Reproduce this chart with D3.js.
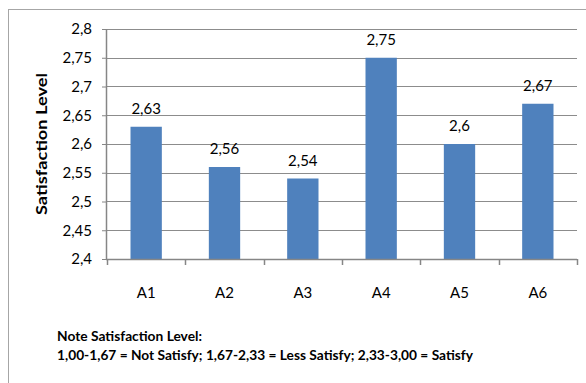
<!DOCTYPE html>
<html>
<head>
<meta charset="utf-8">
<script src="https://cdn.jsdelivr.net/npm/d3@7"></script>
<style>
  html, body { margin: 0; padding: 0; background: #fff; }
  svg { display: block; }
  text { font-family: Lato, "Open Sans", sans-serif; fill: #000; }
</style>
</head>
<body>
<svg id="chart" width="586" height="383"></svg>
<script>
// Satisfaction level per aspect
const categories = ["A1", "A2", "A3", "A4", "A5", "A6"];
const values = [2.63, 2.56, 2.54, 2.75, 2.6, 2.67];
const yTicks = [2.4, 2.45, 2.5, 2.55, 2.6, 2.65, 2.7, 2.75, 2.8];
const yTitle = "Satisfaction Level";
const noteLines = [
  "Note Satisfaction Level:",
  "1,00-1,67 = Not Satisfy; 1,67-2,33 = Less Satisfy; 2,33-3,00 = Satisfy"
];

const svg = d3.select("#chart");
const margin = { left: 107, right: 9, top: 29, bottom: 124 };
const W = 586, H = 383;
const plotW = W - margin.left - margin.right;
const plotH = H - margin.top - margin.bottom;

// comma decimal separator
const fmt = v => String(+v.toFixed(2)).replace(".", ",");

// outer chart frame
svg.append("rect")
  .attr("x", 8.5).attr("y", 9.5)
  .attr("width", 600).attr("height", 400)
  .attr("fill", "none").attr("stroke", "#a6a6a6").attr("stroke-width", 1);

const g = svg.append("g").attr("transform", `translate(${margin.left},${margin.top})`);

const x = d3.scaleBand().domain(categories).range([0, plotW]).paddingInner(0.6).paddingOuter(0.3);
const y = d3.scaleLinear().domain([2.4, 2.8]).range([plotH, 0]);

// gridlines
g.append("g")
  .selectAll("line")
  .data(yTicks.slice(1))
  .join("line")
  .attr("x1", 0).attr("x2", plotW)
  .attr("y1", d => Math.round(y(d)) + 0.5).attr("y2", d => Math.round(y(d)) + 0.5)
  .attr("stroke", "#8c8c8c").attr("stroke-width", 1);

// bars
g.append("g")
  .selectAll("rect")
  .data(values)
  .join("rect")
  .attr("x", (d, i) => x(categories[i]))
  .attr("width", x.bandwidth())
  .attr("y", d => y(d))
  .attr("height", d => plotH - y(d))
  .attr("fill", "#4f81bd");

// value labels
g.append("g")
  .selectAll("text")
  .data(values)
  .join("text")
  .attr("x", (d, i) => x(categories[i]) + x.bandwidth() / 2)
  .attr("y", d => y(d) - 13)
  .attr("text-anchor", "middle")
  .attr("font-size", 15)
  .text(d => fmt(d));

// y axis
const yAxis = g.append("g")
  .call(d3.axisLeft(y).tickValues(yTicks).tickSize(5).tickPadding(10).tickFormat(fmt));
yAxis.select(".domain").attr("stroke", "#868686").attr("stroke-width", 1.5).attr("d", `M-0.5,${plotH}V0`);
yAxis.selectAll(".tick line").attr("stroke", "#868686");
yAxis.selectAll(".tick text").attr("font-size", 15).attr("font-family", "Lato, sans-serif").attr("fill", "#000");

// x axis with boundary ticks
const xAxisG = g.append("g").attr("transform", `translate(0,${plotH})`);
xAxisG.append("line")
  .attr("x1", -1).attr("x2", plotW)
  .attr("y1", 0.5).attr("y2", 0.5)
  .attr("stroke", "#868686").attr("stroke-width", 1.5);
const bounds = d3.range(categories.length + 1).map(i => i * plotW / categories.length);
xAxisG.selectAll("line.tk")
  .data(bounds)
  .join("line")
  .attr("class", "tk")
  .attr("x1", d => Math.round(d) + 0.5).attr("x2", d => Math.round(d) + 0.5)
  .attr("y1", 0).attr("y2", 6)
  .attr("stroke", "#868686").attr("stroke-width", 1.5);
xAxisG.selectAll("text")
  .data(categories)
  .join("text")
  .attr("x", d => x(d) + x.bandwidth() / 2)
  .attr("y", 39)
  .attr("text-anchor", "middle")
  .attr("font-size", 15)
  .text(d => d);

// y axis title
svg.append("text")
  .attr("transform", `translate(47,${margin.top + plotH / 2}) rotate(-90)`)
  .attr("text-anchor", "middle")
  .attr("font-size", 16)
  .attr("font-weight", "bold")
  .attr("textLength", 142).attr("lengthAdjust", "spacingAndGlyphs")
  .text(yTitle);

// note
svg.append("text")
  .attr("x", 57).attr("y", 341)
  .attr("font-size", 14).attr("font-weight", "bold")
  .attr("textLength", 145).attr("lengthAdjust", "spacingAndGlyphs")
  .text(noteLines[0]);
svg.append("text")
  .attr("x", 57).attr("y", 360)
  .attr("font-size", 14).attr("font-weight", "bold")
  .attr("textLength", 416).attr("lengthAdjust", "spacingAndGlyphs")
  .text(noteLines[1]);
</script>
</body>
</html>
